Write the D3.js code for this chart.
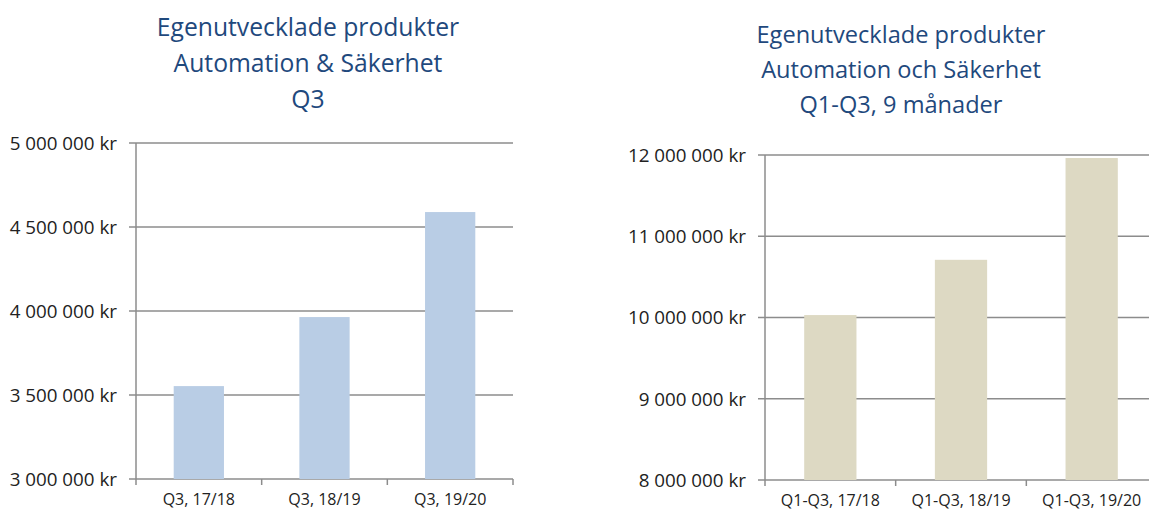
<!DOCTYPE html>
<html>
<head>
<meta charset="utf-8">
<script src="https://cdn.jsdelivr.net/npm/d3@7"></script>
<style>
  body { margin: 0; background: #fff; }
  svg { display: block; font-family: "Open Sans", sans-serif; }
</style>
</head>
<body>
<script>
// Q3 chart
const leftCategories = ["Q3, 17/18", "Q3, 18/19", "Q3, 19/20"];
const leftValues = [3553000, 3964000, 4589000];
const leftTicks = [3000000, 3500000, 4000000, 4500000, 5000000];
const leftTitle = ["Egenutvecklade produkter", "Automation & Säkerhet", "Q3"];

// Q1-Q3 chart
const rightCategories = ["Q1-Q3, 17/18", "Q1-Q3, 18/19", "Q1-Q3, 19/20"];
const rightValues = [10030000, 10710000, 11963000];
const rightTicks = [8000000, 9000000, 10000000, 11000000, 12000000];
const rightTitle = ["Egenutvecklade produkter", "Automation och Säkerhet", "Q1-Q3, 9 månader"];

const width = 1149, height = 511;

const svg = d3.select("body").append("svg")
  .attr("width", width)
  .attr("height", height);

const fmt = v => d3.format(",")(v).replace(/,/g, " ") + " kr";

function drawChart(opts) {
  const g = svg.append("g");

  const x = d3.scaleBand()
    .domain(opts.categories)
    .range([opts.x0, opts.x1])
    .paddingInner(0.6)
    .paddingOuter(0.3);

  const y = d3.scaleLinear()
    .domain(d3.extent(opts.ticks))
    .range([opts.y0, opts.y1]);

  // title
  g.append("text")
    .attr("x", opts.titleX)
    .attr("y", opts.titleY)
    .attr("text-anchor", "middle")
    .attr("fill", "#1f497d")
    .style("font-size", opts.titleSize + "px")
    .selectAll("tspan")
    .data(opts.title)
    .join("tspan")
    .attr("x", opts.titleX)
    .attr("dy", (d, i) => i === 0 ? 0 : opts.titleLead)
    .text(d => d);

  // gridlines
  g.append("g")
    .selectAll("line")
    .data(opts.ticks)
    .join("line")
    .attr("x1", opts.x0 - 7)
    .attr("x2", Math.min(opts.x1, width))
    .attr("y1", d => y(d))
    .attr("y2", d => y(d))
    .attr("stroke", "#8c8c8c")
    .attr("stroke-width", 1.5);

  // bars
  g.append("g")
    .selectAll("rect")
    .data(opts.values)
    .join("rect")
    .attr("x", (d, i) => x(opts.categories[i]))
    .attr("width", x.bandwidth())
    .attr("y", d => y(d))
    .attr("height", d => y(opts.ticks[0]) - y(d))
    .attr("fill", opts.color);

  // y axis line
  g.append("line")
    .attr("x1", opts.x0).attr("x2", opts.x0)
    .attr("y1", opts.y1).attr("y2", opts.y0 + 6)
    .attr("stroke", "#8c8c8c")
    .attr("stroke-width", 1.5);

  // x ticks at category boundaries
  const bounds = opts.categories.map(c => x(c) - x.step() * x.paddingInner() / 2);
  bounds.push(opts.x1);
  g.append("g")
    .selectAll("line")
    .data(bounds.slice(1))
    .join("line")
    .attr("x1", d => d).attr("x2", d => d)
    .attr("y1", opts.y0).attr("y2", opts.y0 + 6)
    .attr("stroke", "#8c8c8c")
    .attr("stroke-width", 1.5);

  // y labels
  g.append("g")
    .selectAll("text")
    .data(opts.ticks)
    .join("text")
    .attr("x", opts.x0 - 19)
    .attr("y", d => y(d))
    .attr("dy", "0.36em")
    .attr("text-anchor", "end")
    .attr("fill", "#222")
    .style("font-size", "18.8px")
    .text(fmt);

  // category labels
  g.append("g")
    .selectAll("text")
    .data(opts.categories)
    .join("text")
    .attr("x", d => x(d) + x.bandwidth() / 2)
    .attr("y", opts.y0 + 26)
    .attr("text-anchor", "middle")
    .attr("fill", "#222")
    .style("font-size", "16px")
    .text(d => d);
}

drawChart({
  categories: leftCategories, values: leftValues, ticks: leftTicks, title: leftTitle,
  x0: 136, x1: 513, y0: 479, y1: 143, color: "#b9cde5",
  titleX: 308, titleY: 36, titleSize: 24.7, titleLead: 36
});

drawChart({
  categories: rightCategories, values: rightValues, ticks: rightTicks, title: rightTitle,
  x0: 765, x1: 1157, y0: 480, y1: 155, color: "#ddd9c3",
  titleX: 901, titleY: 43, titleSize: 23.6, titleLead: 35
});
</script>
</body>
</html>
